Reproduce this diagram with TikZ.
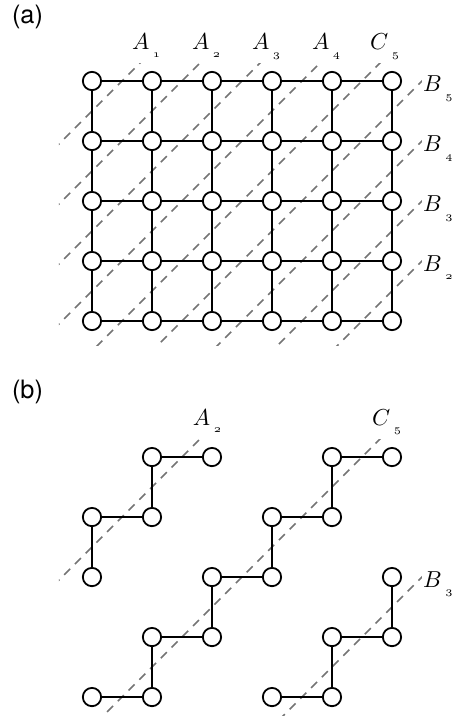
\documentclass[tikz,border=0pt]{standalone}
\usepackage{fontspec}
\setsansfont{TeX Gyre Heros}
\usepackage{tikz}
\definecolor{cutgray}{HTML}{747474}

\newcommand{\glab}[2]{$#1$\kern1.6pt\raisebox{-3.4pt}{$\scriptscriptstyle\mathnormal{#2}$}}

\begin{document}
\begin{tikzpicture}[x=1cm, y=1cm,
  vtx/.style={circle, draw, fill=white, line width=0.85pt, minimum size=0.305cm, inner sep=0pt},
  bond/.style={line width=0.85pt},
  cut/.style={cutgray, line width=0.75pt, dash pattern=on 4pt off 3.2pt},
  tag/.style={font=\fontsize{12}{14}\selectfont\sffamily},
  lab/.style={anchor=base west, inner sep=0pt, font=\fontsize{11}{13}\selectfont}]
\useasboundingbox (-1.533,-6.583) rectangle (6.117,5.35);

% (a) full lattice
\node[tag] (taga) at (-1.075,5.06) {(a)};
\begin{scope}
  \clip (-0.55,-0.4) rectangle (5.5,4.3);
  \foreach \c in {3.5,2.5,...,-4.5}
    \draw[cut] (-1,-1+\c) -- (6,6+\c);
\end{scope}
\foreach \i in {0,...,5}
  \foreach \j in {0,...,4}
    \node[vtx] (a-\i-\j) at (\i,\j) {};
\foreach \i in {0,...,4}{
  \pgfmathtruncatemacro{\k}{\i+1}
  \foreach \j in {0,...,4}
    \draw[bond] (a-\i-\j) -- (a-\k-\j);
}
\foreach \i in {0,...,5}
  \foreach \j in {0,...,3}{
    \pgfmathtruncatemacro{\k}{\j+1}
    \draw[bond] (a-\i-\j) -- (a-\i-\k);
  }
\node[lab] (la1) at (0.660,4.517) {\glab{A}{1}};
\node[lab] (la2) at (1.660,4.517) {\glab{A}{2}};
\node[lab] (la3) at (2.660,4.517) {\glab{A}{3}};
\node[lab] (la4) at (3.660,4.517) {\glab{A}{4}};
\node[lab] (lc5) at (4.630,4.517) {\glab{C}{5}};
\node[lab] (lb5) at (5.510,3.817) {\glab{B}{5}};
\node[lab] (lb4) at (5.510,2.817) {\glab{B}{4}};
\node[lab] (lb3) at (5.510,1.817) {\glab{B}{3}};
\node[lab] (lb2) at (5.510,0.817) {\glab{B}{2}};

% (b) the three cut strips
\begin{scope}[yshift=-6.267cm]
  \node[tag] (tagb) at (-1.075,5.084) {(b)};
  \begin{scope}
    \clip (-0.55,-0.4) rectangle (5.5,4.3);
    \foreach \c in {2.5,-0.5,-3.5}
      \draw[cut] (-1,-1+\c) -- (6,6+\c);
  \end{scope}
  \foreach \i/\j in {0/2,0/3,1/3,1/4,2/4,
                     0/0,1/0,1/1,2/1,2/2,3/2,3/3,4/3,4/4,5/4,
                     3/0,4/0,4/1,5/1,5/2}
    \node[vtx] (b-\i-\j) at (\i,\j) {};
  \draw[bond] (b-0-2) -- (b-0-3) -- (b-1-3) -- (b-1-4) -- (b-2-4);
  \draw[bond] (b-0-0) -- (b-1-0) -- (b-1-1) -- (b-2-1) -- (b-2-2)
    -- (b-3-2) -- (b-3-3) -- (b-4-3) -- (b-4-4) -- (b-5-4);
  \draw[bond] (b-3-0) -- (b-4-0) -- (b-4-1) -- (b-5-1) -- (b-5-2);
  \node[lab] (lba2) at (1.675,4.533) {\glab{A}{2}};
  \node[lab] (lbc5) at (4.660,4.533) {\glab{C}{5}};
  \node[lab] (lbb3) at (5.510,1.833) {\glab{B}{3}};
\end{scope}
\end{tikzpicture}
\end{document}
